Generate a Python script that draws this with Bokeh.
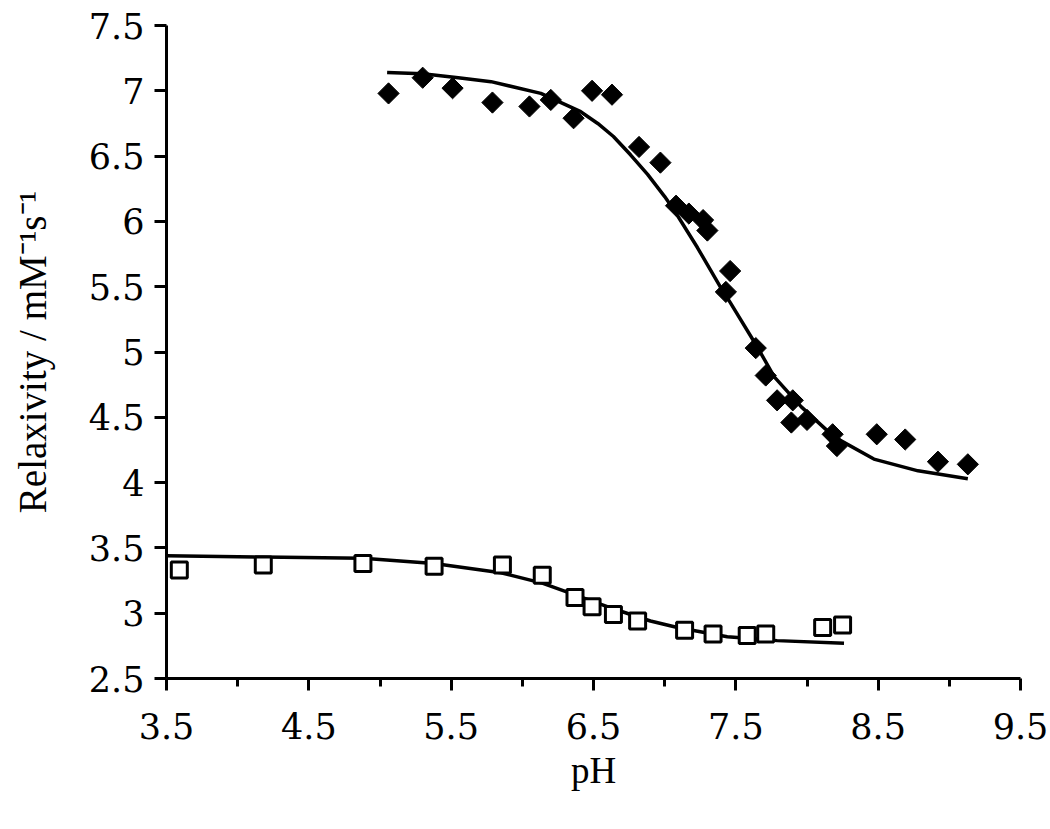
import numpy as np
from bokeh.plotting import figure
from bokeh.models import Range1d, FixedTicker
from bokeh.embed import file_html
from bokeh.resources import INLINE

# ---- data ----
diamond_ph = [5.06, 5.30, 5.51, 5.79, 6.05, 6.20, 6.36, 6.49, 6.63, 6.82, 6.97, 7.08,
              7.17, 7.27, 7.30, 7.46, 7.43, 7.64, 7.71, 7.79, 7.90, 7.89, 8.00, 8.18,
              8.21, 8.49, 8.69, 8.92, 9.13]
diamond_r = [6.98, 7.10, 7.02, 6.91, 6.88, 6.93, 6.79, 7.00, 6.97, 6.57, 6.45, 6.12,
             6.06, 6.01, 5.93, 5.62, 5.46, 5.03, 4.82, 4.63, 4.63, 4.46, 4.48, 4.37,
             4.28, 4.37, 4.33, 4.16, 4.14]
diamond_fit_ph = [5.05, 5.30, 5.55, 5.78, 6.13, 6.41, 6.53, 6.64, 6.76, 6.88, 7.00, 7.07,
                  7.23, 7.39, 7.46, 7.65, 7.77, 7.96, 8.19, 8.47, 8.78, 9.13]
diamond_fit_r = [7.14, 7.13, 7.10, 7.07, 6.98, 6.84, 6.75, 6.65, 6.51, 6.36, 6.19, 6.08,
                 5.80, 5.50, 5.38, 5.04, 4.81, 4.58, 4.35, 4.18, 4.09, 4.03]

square_ph = [3.59, 4.18, 4.88, 5.38, 5.86, 6.14, 6.37, 6.49, 6.64, 6.81, 7.14, 7.34,
             7.58, 7.71, 8.11, 8.25]
square_r = [3.33, 3.37, 3.38, 3.36, 3.37, 3.29, 3.12, 3.05, 2.99, 2.94, 2.87, 2.84,
            2.83, 2.84, 2.89, 2.91]
square_fit_ph = [3.50, 4.18, 4.88, 5.38, 5.85, 6.14, 6.37, 6.65, 6.90, 7.09, 7.44, 7.79, 8.26]
square_fit_r = [3.44, 3.43, 3.42, 3.38, 3.31, 3.23, 3.14, 3.03, 2.94, 2.89, 2.82, 2.79, 2.77]

x_ticks = [3.5, 4.5, 5.5, 6.5, 7.5, 8.5, 9.5]
x_minor_ticks = [4.0, 5.0, 6.0, 7.0, 8.0, 9.0]
y_ticks = [2.5, 3.0, 3.5, 4.0, 4.5, 5.0, 5.5, 6.0, 6.5, 7.0, 7.5]
y_tick_labels = ["2.5", "3", "3.5", "4", "4.5", "5", "5.5", "6", "6.5", "7", "7.5"]

x_title = "pH"
y_title = "Relaxivity / mM\u207b\u00b9s\u207b\u00b9"

# ---- figure ----
p = figure(width=1048, height=827, output_backend="svg", toolbar_location=None,
           x_range=Range1d(3.5, 9.5), y_range=Range1d(2.5, 7.5),
           min_border_left=166, min_border_right=28, min_border_top=25,
           min_border_bottom=149)
p.outline_line_color = None
p.grid.visible = False
p.background_fill_color = "white"
p.border_fill_color = "white"

tick_font = "DejaVu Serif"
for ax in (p.xaxis[0], p.yaxis[0]):
    ax.axis_line_width = 3
    ax.axis_line_color = "black"
    ax.major_tick_line_width = 3
    ax.minor_tick_line_width = 3
    ax.major_tick_line_color = "black"
    ax.minor_tick_line_color = "black"
    ax.major_tick_out = 12
    ax.major_tick_in = 0
    ax.minor_tick_in = 0
    ax.major_label_text_font = tick_font
    ax.major_label_text_font_size = "35px"
    ax.major_label_text_color = "black"
    ax.axis_label_text_font = "Liberation Serif"
    ax.axis_label_text_font_style = "normal"
    ax.axis_label_text_color = "black"

p.xaxis[0].ticker = FixedTicker(ticks=x_ticks, minor_ticks=x_minor_ticks)
p.xaxis[0].minor_tick_out = 8
p.xaxis[0].major_label_standoff = 22
p.xaxis[0].axis_label = x_title
p.xaxis[0].axis_label_text_font_size = "37px"
p.xaxis[0].axis_label_standoff = 8

p.yaxis[0].ticker = FixedTicker(ticks=y_ticks, minor_ticks=[])
p.yaxis[0].minor_tick_out = 0
p.yaxis[0].major_label_overrides = {t: l for t, l in zip(y_ticks, y_tick_labels)}
p.yaxis[0].major_label_standoff = 10
p.yaxis[0].axis_label = y_title
p.yaxis[0].axis_label_text_font_size = "39px"
p.yaxis[0].axis_label_standoff = 32

# fitted curves
p.line(diamond_fit_ph, diamond_fit_r, line_color="black", line_width=3.5)
p.line(square_fit_ph, square_fit_r, line_color="black", line_width=3.5)

# data points
p.scatter(diamond_ph, diamond_r, marker="square", angle=np.pi / 4, size=15,
          fill_color="black", line_color="black", line_width=1)
p.scatter(square_ph, square_r, marker="square", size=16,
          fill_color="white", line_color="black", line_width=3)

open("out.html", "w").write(file_html(p, INLINE))
